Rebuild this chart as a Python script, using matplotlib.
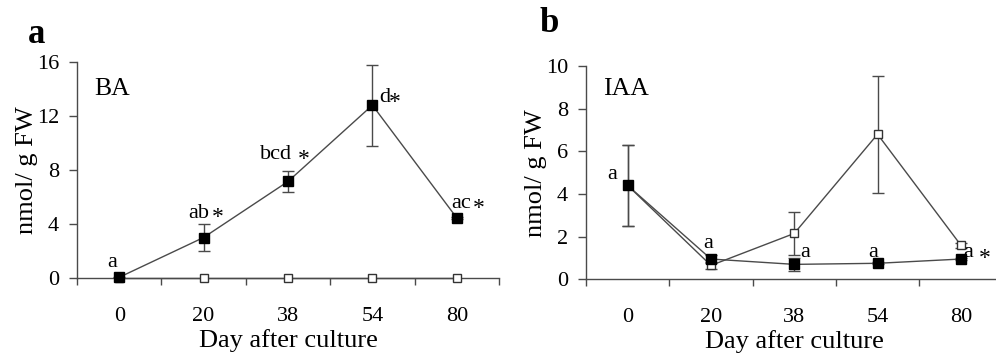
import matplotlib
matplotlib.use("Agg")
import matplotlib.pyplot as plt

# Days after culture (categorical x axis)
days = ['0', '20', '38', '54', '80']

# Panel a: BA (nmol/g FW)
ba_filled = [0.05, 3.0, 7.15, 12.8, 4.45]
ba_filled_err = [0.05, 1.0, 0.8, 3.0, 0.1]
ba_open = [0.0, 0.0, 0.0, 0.0, 0.0]
ba_letters = ['a', 'ab', 'bcd', 'd', 'ac']
ba_star = [False, True, True, True, True]

# Panel b: IAA (nmol/g FW)
iaa_open = [4.4, 0.65, 2.15, 6.8, 1.6]
iaa_open_err = [1.9, 0.15, 1.0, 2.75, 0.12]
iaa_filled = [4.4, 0.95, 0.7, 0.75, 0.95]
iaa_filled_err = [1.9, 0.2, 0.3, 0.05, 0.05]
iaa_letters = ['a', 'a', 'a', 'a', 'a']
iaa_star = [False, False, False, False, True]

plt.rcParams['font.family'] = ['Liberation Serif', 'DejaVu Serif']

LINE = '#4a4a4a'
PX = 0.72  # points per pixel at dpi 100

fig = plt.figure(figsize=(9.96, 3.56), dpi=100)
ax_a = fig.add_axes([77 / 996, 1 - 278 / 356, 422 / 996, 216 / 356])
ax_b = fig.add_axes([586 / 996, 1 - 279.3 / 356, 416.5 / 996, 213.3 / 356])


def style_axis(ax, ymax, ystep):
    x = range(len(days))
    ax.set_xlim(-0.5, len(days) - 0.5)
    ax.set_ylim(0, ymax)
    ax.set_yticks(range(0, ymax + 1, ystep))
    ax.set_xticks([i - 0.5 for i in range(len(days) + 1)])
    ax.set_xticklabels([])
    ax.set_xticks(list(x), minor=True)
    ax.set_xticklabels(days, minor=True)
    ax.tick_params(axis='x', which='major', direction='out', length=5,
                   width=1, color=LINE)
    ax.tick_params(axis='x', which='minor', length=0, pad=21, labelsize=16)
    ax.tick_params(axis='y', direction='out', length=5.8, width=1, color=LINE,
                   pad=7, labelsize=16)
    for s in ['top', 'right']:
        ax.spines[s].set_visible(False)
    for s in ['left', 'bottom']:
        ax.spines[s].set_color(LINE)
        ax.spines[s].set_linewidth(1)
    ax.set_xlabel('Day after culture', fontsize=19, labelpad=2)
    ax.set_ylabel('nmol/ g FW', fontsize=19, labelpad=-1)
    ax.patch.set_alpha(0)


def draw_series(ax, vals, errs, filled):
    x = list(range(len(days)))
    ax.errorbar(x, vals, yerr=errs, fmt='none', ecolor=LINE, elinewidth=1,
                capsize=4.5, capthick=1, zorder=2)
    ax.plot(x, vals, color=LINE, lw=1, zorder=3,
            marker='s', markersize=7 if filled else 6,
            markerfacecolor='black' if filled else 'white',
            markeredgecolor='black' if filled else '#333333',
            markeredgewidth=1, clip_on=False)


def label_points(ax, vals, letters, stars, offsets, star_offsets):
    for i, (v, t, st) in enumerate(zip(vals, letters, stars)):
        dx, dy = offsets[i]
        ax.annotate(t, (i, v), xytext=(dx * PX, dy * PX),
                    textcoords='offset points', ha='center', va='center',
                    fontsize=16, annotation_clip=False)
        if st:
            sx, sy = star_offsets[i]
            ax.annotate('*', (i, v), xytext=(sx * PX, sy * PX),
                        textcoords='offset points', ha='center', va='center',
                        fontsize=17, annotation_clip=False)


# ---- panel a ----
style_axis(ax_a, 16, 4)
draw_series(ax_a, ba_open, None, False)
draw_series(ax_a, ba_filled, ba_filled_err, True)
label_points(ax_a, ba_filled, ba_letters, ba_star,
             [(-7, 15), (-4.5, 24), (-12, 27), (12, 8), (4, 14)],
             [None, (14.5, 20), (16, 22), (22.5, 3), (21.7, 9)])
ax_a.text(-0.29, 14.0, 'BA', fontsize=18.5, ha='left', va='center')
fig.text(37 / 996, 1 - 43 / 356, 'a', fontsize=25, fontweight='bold',
         ha='center', va='baseline')

# ---- panel b ----
style_axis(ax_b, 10, 2)
draw_series(ax_b, iaa_open, iaa_open_err, False)
draw_series(ax_b, iaa_filled, iaa_filled_err, True)
label_points(ax_b, iaa_filled, iaa_letters, iaa_star,
             [(-15.6, 11), (-2.3, 16), (11, 12), (-4.5, 11), (7.8, 7)],
             [None, None, None, None, (23.8, 1)])
ax_b.text(-0.3, 8.9, 'IAA', fontsize=18.5, ha='left', va='center')
fig.text(549 / 996, 1 - 32 / 356, 'b', fontsize=25, fontweight='bold',
         ha='center', va='baseline')

fig.savefig('out.png', dpi=100)
